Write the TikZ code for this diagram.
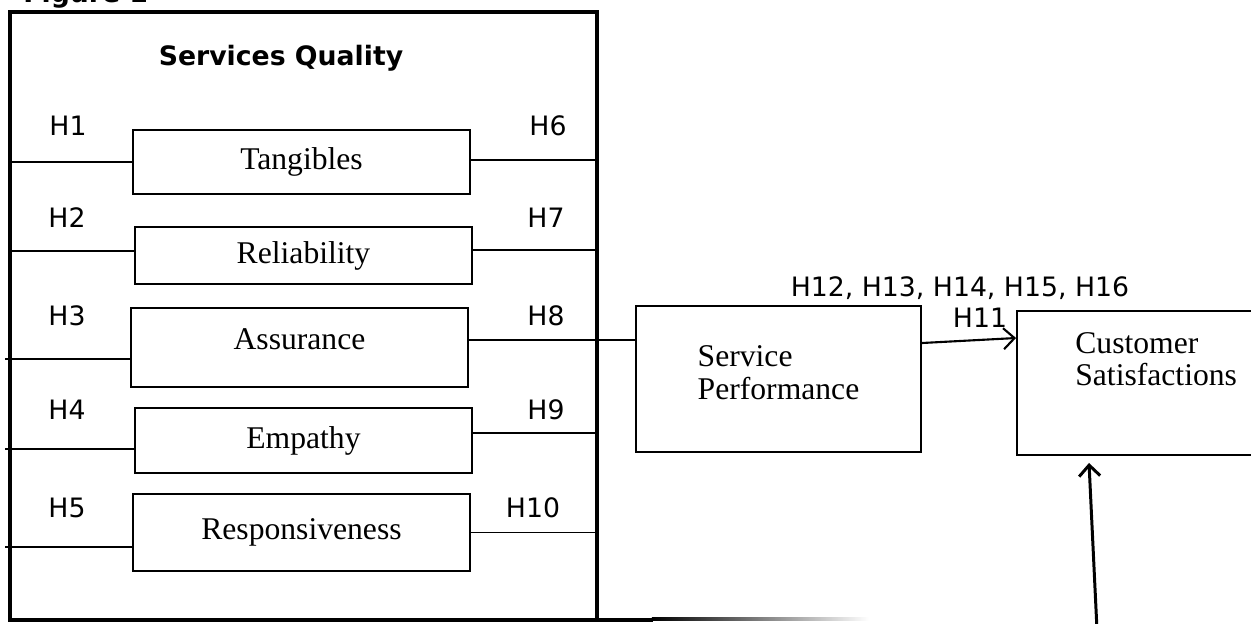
\documentclass[tikz,border=0pt]{standalone}
\usepackage{fontspec}
\setmainfont{Liberation Serif}
\newfontfamily\verd{DejaVu Sans}
\usetikzlibrary{positioning,arrows.meta}

\begin{document}
\begin{tikzpicture}[x=0.02cm,y=-0.02cm,
	dim/.style={draw,line width=1.1pt,minimum width=6.74cm,font=\fontsize{18}{20}\selectfont},
	hyp/.style={font=\verd\fontsize{15.2}{17}\selectfont,inner sep=0pt},
	link/.style={line width=1.1pt},
	go/.style={line width=1.2pt,-{Straight Barb[length=0.22cm,width=0.42cm]}}]
	\useasboundingbox (0,0) rectangle (1251,623);
	\node[anchor=base west,inner sep=0pt,font=\verd\bfseries\fontsize{15.2}{17}\selectfont] (fig) at (23,2) {Figure 1};
	\node[draw,line width=2.3pt,outer sep=0pt,minimum width=11.74cm,minimum height=12.16cm] (sq) at (303.5,316) {};
	\node[font=\verd\bfseries\fontsize{15.2}{17}\selectfont] (title) at (281,58) {Services Quality};

	\node[dim,minimum height=1.28cm] (tang) at (301.5,162) {Tangibles};
	\node[dim,minimum height=1.14cm] (rel) at (303.5,255.5) {Reliability};
	\node[dim,minimum height=1.58cm,text depth=0.32cm] (ass) at (299.5,347.5) {Assurance};
	\node[dim,minimum height=1.30cm] (emp) at (303.5,440.5) {Empathy};
	\node[dim,minimum height=1.54cm] (resp) at (301.5,532.5) {Responsiveness};

	\node[dim,minimum width=5.7cm,minimum height=2.92cm,align=left,text depth=0.26cm,
		font=\fontsize{18}{19}\selectfont] (sp) at (778.5,379) {Service\\Performance};
	\node[draw,line width=1.1pt,minimum width=5.46cm,minimum height=2.88cm] (cs) at (1153.5,383) {};
	\node[anchor=west,align=left,inner sep=0pt,font=\fontsize{18}{18}\selectfont] (cstext) at (1075,359) {Customer\\Satisfactions};

	% hypotheses labels
	\foreach \n/\x/\y in {1/68/126,2/67/218,3/67/316,4/67/410,5/67/508,6/548/126,7/546/218,8/546/316,9/546/410,10/533/508}
		\node[hyp] (h\n) at (\x,\y) {H\n};
	\node[hyp] (hsp) at (960,288) {H12, H13, H14, H15, H16};
	\node[hyp] (h11) at (980,318) {H11};

	% left side
	\draw[link] (tang.west) -- (tang.west -| sq.west);
	\draw[link] ([yshift=0.09cm]rel.west) -- ([yshift=0.09cm]rel.west -| sq.west);
	\draw[link,shorten >=-0.1cm] ([yshift=-0.23cm]ass.west) -- ([yshift=-0.23cm]ass.west -| sq.west);
	\draw[link,shorten >=-0.1cm] ([yshift=-0.17cm]emp.west) -- ([yshift=-0.17cm]emp.west -| sq.west);
	\draw[link,shorten >=-0.1cm] ([yshift=-0.29cm]resp.west) -- ([yshift=-0.29cm]resp.west -| sq.west);
	% right side
	\draw[link] ([yshift=0.04cm]tang.east) -- ([yshift=0.04cm]tang.east -| sq.east);
	\draw[link] ([yshift=0.11cm]rel.east) -- ([yshift=0.11cm]rel.east -| sq.east);
	\draw[link] ([yshift=0.15cm]ass.east) -- ([yshift=0.15cm]ass.east -| sp.west);
	\draw[link] ([yshift=0.15cm]emp.east) -- ([yshift=0.15cm]emp.east -| sq.east);
	\draw[link] (resp.east) -- (resp.east -| sq.east);

	\draw[go] ([yshift=0.72cm]sp.east) -- ([yshift=0.9cm]cs.west);
	\coordinate (foot) at (1097,630);
	\draw[go,line width=1.7pt] (foot) -- ([xshift=-1.29cm,yshift=-0.14cm]cs.south);

	% bottom edge running out
	\draw[line width=2.3pt] (sq.south east) -- ++(56,0);
	\shade[left color=black,right color=white] ([xshift=1.1cm,yshift=1.15pt]sq.south east) rectangle ++(217,3);
\end{tikzpicture}
\end{document}
